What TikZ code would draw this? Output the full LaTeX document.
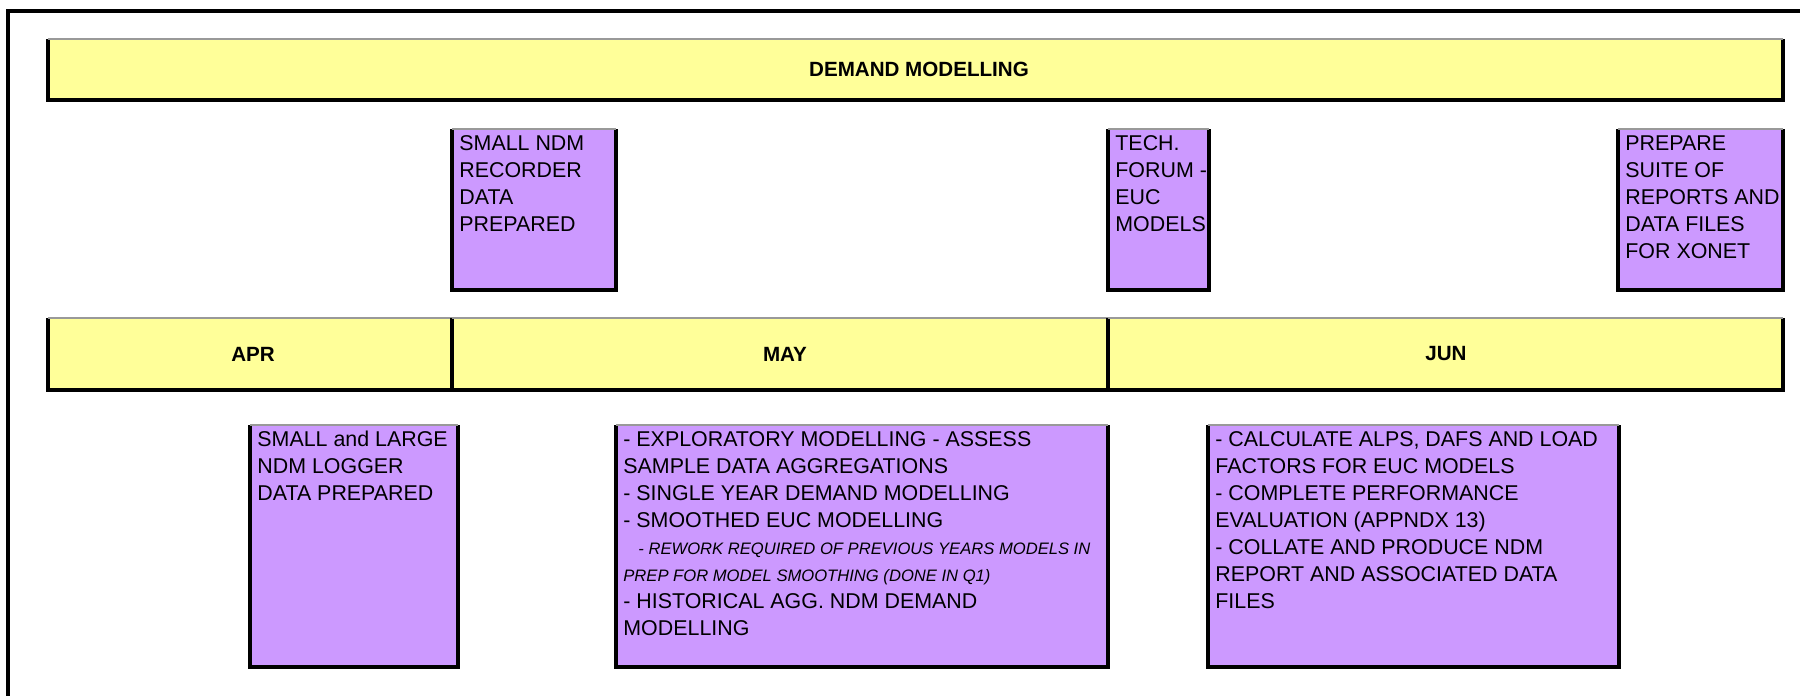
\documentclass[tikz,border=0pt]{standalone}
\usepackage{fontspec}
\setmainfont{Liberation Sans}
\usetikzlibrary{positioning}
\definecolor{baryellow}{HTML}{FFFF99}
\definecolor{tasklilac}{HTML}{CC99FF}
\newcommand{\notefont}{\fontsize{8.3}{13.5}\selectfont\itshape}
\newcommand{\chartbox}[5]{%
  \fill[#5] (#1,#2) rectangle (#3,#4);
  \draw[edgeline] (#1,#2) -- (#1,#4) -- (#3,#4) -- (#3,#2);
  \draw[topline] (#1,#2) -- (#3,#2);}

\begin{document}
\begin{tikzpicture}[x=0.5pt,y=-0.5pt,
    edgeline/.style={black,line width=1.6pt},
    topline/.style={black!40,line width=0.7pt},
    bartext/.style={font=\fontsize{10.3}{12}\selectfont\bfseries},
    tasktext/.style={anchor=north west,align=left,inner xsep=3.5pt,inner ysep=3pt,
        font=\fontsize{10.7}{13.5}\selectfont}]
    \useasboundingbox (0,0) rectangle (1800,696);
    % outer frame
    \draw[edgeline] (1800,11) -- (8,11) -- (8,696);
    % header bar
    \chartbox{48}{39}{1783}{100}{baryellow}
    \node[bartext] (demand) at (919,69.5) {DEMAND MODELLING};
    % milestones
    \chartbox{452}{129}{616}{290}{tasklilac}
    \node[tasktext] (recorder) at (452,129) {SMALL NDM\\RECORDER\\DATA\\PREPARED};
    \chartbox{1108}{129}{1209}{290}{tasklilac}
    \node[tasktext] (forum) at (1108,129) {TECH.\\FORUM -\\EUC\\MODELS};
    \chartbox{1618}{129}{1783}{290}{tasklilac}
    \node[tasktext] (xonet) at (1618,129) {PREPARE\\SUITE OF\\REPORTS AND\\DATA FILES\\FOR XONET};
    % months
    \chartbox{48}{318}{452}{390}{baryellow}
    \chartbox{452}{318}{1108}{390}{baryellow}
    \chartbox{1108}{318}{1783}{390}{baryellow}
    \node[bartext] (apr) at (253,354) {APR};
    \node[bartext] (may) at (785,354) {MAY};
    \node[bartext] (jun) at (1446,354) {JUN};
    % tasks
    \chartbox{250}{425}{458}{667}{tasklilac}
    \node[tasktext] (logger) at (250,425) {SMALL and LARGE\\NDM LOGGER\\DATA PREPARED};
    \chartbox{616}{425}{1108}{667}{tasklilac}
    \node[tasktext] (explore) at (616,425) {- EXPLORATORY MODELLING - ASSESS\\
        SAMPLE DATA AGGREGATIONS\\
        - SINGLE YEAR DEMAND MODELLING\\
        - SMOOTHED EUC MODELLING\\
        {\notefont\hspace*{7.5pt}- REWORK REQUIRED OF PREVIOUS YEARS MODELS IN}\\
        {\notefont PREP FOR MODEL SMOOTHING (DONE IN Q1)}\\
        - HISTORICAL AGG. NDM DEMAND\\
        MODELLING};
    \chartbox{1208}{425}{1619}{667}{tasklilac}
    \node[tasktext] (report) at (1208,425) {- CALCULATE ALPS, DAFS AND LOAD\\
        FACTORS FOR EUC MODELS\\
        - COMPLETE PERFORMANCE\\
        EVALUATION (APPNDX 13)\\
        - COLLATE AND PRODUCE NDM\\
        REPORT AND ASSOCIATED DATA\\
        FILES};
\end{tikzpicture}
\end{document}
